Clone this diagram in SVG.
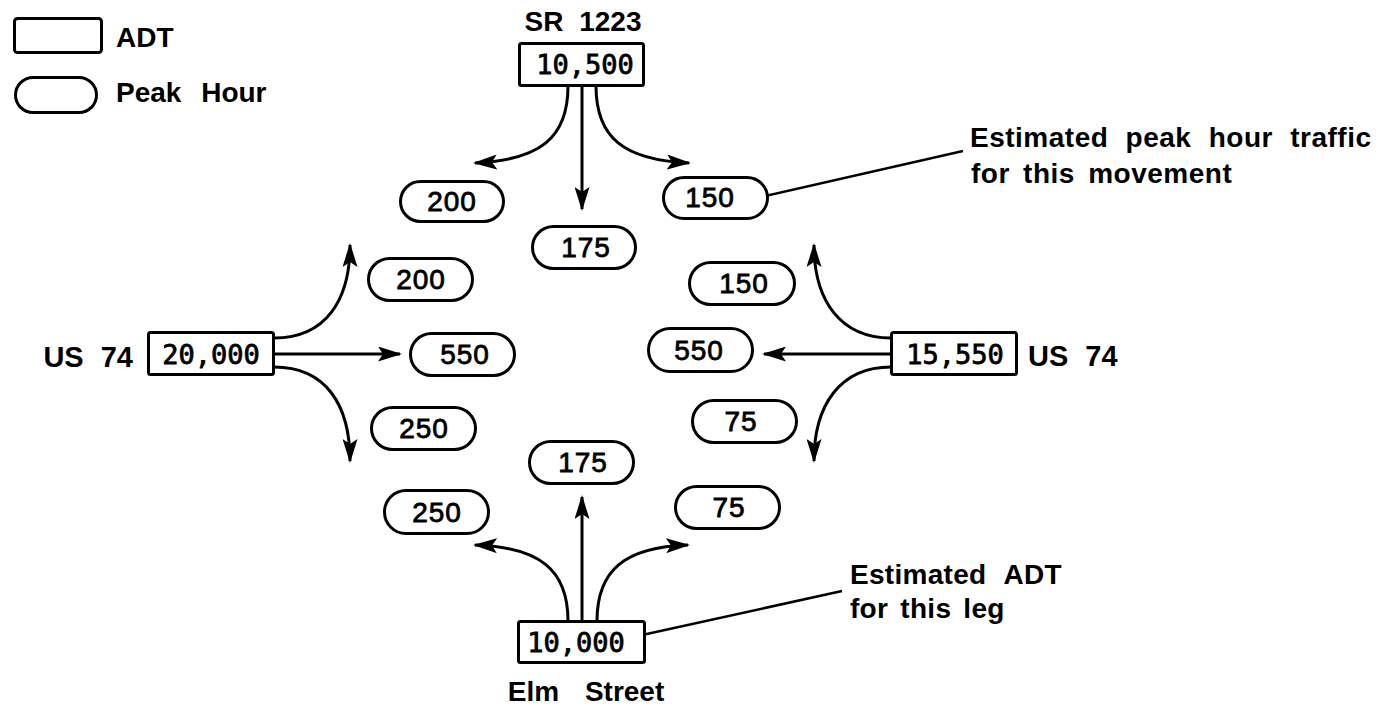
<svg xmlns="http://www.w3.org/2000/svg" width="1387" height="707" viewBox="0 0 1387 707">
<style>
.box{fill:#fff;stroke:#000;stroke-width:3}
.pill{fill:#fff;stroke:#000;stroke-width:3}
.num{font-family:"Liberation Sans",Arial,sans-serif;font-size:28px;fill:#000;text-anchor:middle;stroke:#000;stroke-width:0.8;letter-spacing:1px}
.mono{font-family:"DejaVu Sans Mono","Liberation Mono",monospace;font-size:27px;fill:#000;text-anchor:middle;stroke:#000;stroke-width:0.8}
.lbl{font-family:"Liberation Sans",Arial,sans-serif;font-weight:700;font-size:28px;fill:#000}
.arr{fill:none;stroke:#000;stroke-width:3;marker-end:url(#ah)}
.lead{fill:none;stroke:#000;stroke-width:2.5}
</style>
<defs>
<marker id="ah" viewBox="0 0 24 15" markerWidth="24" markerHeight="15" refX="22" refY="7.5" orient="auto" markerUnits="userSpaceOnUse">
<path d="M0,0 L24,7.5 L0,15 L5,7.5 Z" fill="#000"/>
</marker>
</defs>
<rect width="1387" height="707" fill="#fff"/>

<g id="legend">
<rect class="box" x="14.5" y="18.5" width="87" height="34" rx="3"/>
<text class="lbl" x="116" y="47">ADT</text>
<rect class="pill" x="15.5" y="77.5" width="81" height="35" rx="17.5"/>
<text class="lbl" x="116" y="102" style="word-spacing:12px">Peak Hour</text>
</g>

<g id="connectors">
<path class="arr" d="M568,86 C568,138 540,160 475,163"/>
<path class="arr" d="M582,86 L582,209"/>
<path class="arr" d="M596,86 C596,138 624,160 689,163"/>

<path class="arr" d="M274,338 C326,338 350,300 350,245"/>
<path class="arr" d="M274,354 L400,354"/>
<path class="arr" d="M274,367 C326,367 350,405 350,461"/>

<path class="arr" d="M891,338 C840,338 814,300 814,245"/>
<path class="arr" d="M891,354 L764,354"/>
<path class="arr" d="M891,367 C840,367 814,405 814,461"/>

<path class="arr" d="M568,621 C568,570 540,547 475,545"/>
<path class="arr" d="M582,621 L582,497"/>
<path class="arr" d="M597,621 C597,570 625,547 688,545"/>

<line class="lead" x1="761" y1="197" x2="963" y2="151"/>
<circle cx="761" cy="197" r="3.5" fill="#000"/>
<line class="lead" x1="633" y1="637" x2="842" y2="591"/>
<circle cx="633" cy="637" r="3.5" fill="#000"/>
</g>

<g id="node-north">
<text class="lbl" x="583" y="31" text-anchor="middle" style="word-spacing:8px">SR 1223</text>
<rect class="box" x="519.5" y="43.5" width="124" height="42" rx="2"/>
<text class="mono" x="585" y="74">10,500</text>
</g>
<g id="node-west">
<text class="lbl" x="133" y="367" text-anchor="end" style="font-size:29px;word-spacing:9px">US 74</text>
<rect class="box" x="148.5" y="332.5" width="125" height="42" rx="2"/>
<text class="mono" x="211" y="364">20,000</text>
</g>
<g id="node-east">
<rect class="box" x="891.5" y="332.5" width="125" height="42" rx="2"/>
<text class="mono" x="955" y="364">15,550</text>
<text class="lbl" x="1028" y="366" style="font-size:29px;word-spacing:9px">US 74</text>
</g>
<g id="node-south">
<rect class="box" x="518.5" y="621.5" width="126" height="41" rx="2"/>
<text class="mono" x="576" y="652">10,000</text>
<text class="lbl" x="586" y="701" text-anchor="middle" style="word-spacing:18px">Elm Street</text>
</g>

<g id="pill-n-left"><rect class="pill" x="400.5" y="181.5" width="103" height="40" rx="20"/><text class="num" x="452" y="211">200</text></g>
<g id="pill-n-thru"><rect class="pill" x="532.5" y="226.5" width="103" height="42" rx="21"/><text class="num" x="586" y="257">175</text></g>
<g id="pill-n-right"><rect class="pill" x="663.5" y="177.5" width="104" height="41" rx="20.5"/><text class="num" x="710" y="207">150</text></g>

<g id="pill-w-left"><rect class="pill" x="368.5" y="258.5" width="104" height="42" rx="21"/><text class="num" x="421" y="289">200</text></g>
<g id="pill-w-thru"><rect class="pill" x="410.5" y="333.5" width="104" height="42" rx="21"/><text class="num" x="465" y="364">550</text></g>
<g id="pill-w-right"><rect class="pill" x="371.5" y="407.5" width="104" height="42" rx="21"/><text class="num" x="424" y="438">250</text></g>

<g id="pill-e-right"><rect class="pill" x="689.5" y="262.5" width="105" height="42" rx="21"/><text class="num" x="744" y="293">150</text></g>
<g id="pill-e-thru"><rect class="pill" x="648.5" y="328.5" width="104" height="43" rx="21.5"/><text class="num" x="699" y="360">550</text></g>
<g id="pill-e-left"><rect class="pill" x="692.5" y="400.5" width="104" height="42" rx="21"/><text class="num" x="741" y="431">75</text></g>

<g id="pill-s-thru"><rect class="pill" x="529.5" y="441.5" width="104" height="42" rx="21"/><text class="num" x="583" y="472">175</text></g>
<g id="pill-s-left"><rect class="pill" x="384.5" y="490.5" width="104" height="43" rx="21.5"/><text class="num" x="437" y="522">250</text></g>
<g id="pill-s-right"><rect class="pill" x="675.5" y="486.5" width="104" height="42" rx="21"/><text class="num" x="729" y="517">75</text></g>

<g id="callout-peak">
<text class="lbl" x="970" y="147" style="letter-spacing:0.5px;word-spacing:9px">Estimated peak hour traffic</text>
<text class="lbl" x="971" y="183" style="letter-spacing:0.5px;word-spacing:5px">for this movement</text>
</g>
<g id="callout-adt">
<text class="lbl" x="850" y="584" style="letter-spacing:0.3px;word-spacing:10px">Estimated ADT</text>
<text class="lbl" x="850" y="618" style="letter-spacing:0.3px;word-spacing:4px">for this leg</text>
</g>
</svg>
